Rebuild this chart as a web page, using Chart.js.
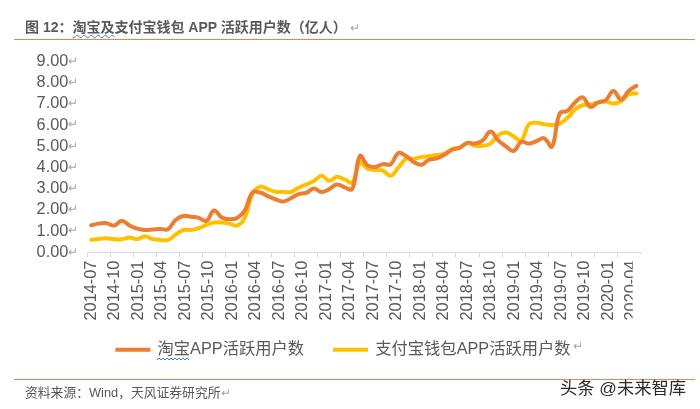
<!DOCTYPE html>
<html><head><meta charset="utf-8">
<script src="https://cdn.jsdelivr.net/npm/chart.js@4"></script>
<style>
html,body{margin:0;padding:0;background:#fff;width:700px;height:409px;overflow:hidden}
#c{position:absolute;left:0;top:0}
.t{position:absolute;white-space:nowrap;font-family:"Liberation Sans","Noto Sans CJK SC",sans-serif;color:#595959}
.r{position:absolute;height:1px;background:#E8883F;left:14px;width:681px}
.a{color:#a6a6a6;font-weight:normal;font-size:12px}
</style></head><body>
<canvas id="c" width="700" height="409"></canvas>
<div class="t" style="left:25px;top:18px;font-size:14px;line-height:18px;font-weight:bold">图 12：<span style="text-decoration:underline wavy #3B78E7 1px;text-underline-offset:2px">淘宝及</span>支付宝钱包 APP 活跃用户数（亿人）<span class="a"> ↵</span></div>
<div class="r" style="top:39px"></div>
<div class="r" style="top:379px"></div>
<div class="t" style="left:25px;top:384px;font-size:12.8px;line-height:18px">资料来源：Wind，天风证券研究所<span class="a">↵</span></div>
<div class="t" style="left:560px;top:377px;font-size:17.3px;line-height:22px;color:#2b2b2b;text-shadow:0 0 2px #fff,1px 1px 0 #fff">头条 @未来智库</div>
<svg style="position:absolute;left:157px;top:357px" width="34" height="6"><polyline fill="none" stroke="#3B78E7" stroke-width="1" points="0,3 2,1 4,3 6,1 8,3 10,1 12,3 14,1 16,3 18,1 20,3 22,1 24,3 26,1 28,3 30,1 32,3"/></svg>
<script>
const categories = [
"2014-07","2014-08","2014-09","2014-10","2014-11","2014-12",
"2015-01","2015-02","2015-03","2015-04","2015-05","2015-06","2015-07","2015-08","2015-09","2015-10","2015-11","2015-12",
"2016-01","2016-02","2016-03","2016-04","2016-05","2016-06","2016-07","2016-08","2016-09","2016-10","2016-11","2016-12",
"2017-01","2017-02","2017-03","2017-04","2017-05","2017-06","2017-07","2017-08","2017-09","2017-10","2017-11","2017-12",
"2018-01","2018-02","2018-03","2018-04","2018-05","2018-06","2018-07","2018-08","2018-09","2018-10","2018-11","2018-12",
"2019-01","2019-02","2019-03","2019-04","2019-05","2019-06","2019-07","2019-08","2019-09","2019-10","2019-11","2019-12",
"2020-01","2020-02","2020-03","2020-04","2020-05","2020-06"];
const taobao = [1.27,1.35,1.37,1.26,1.49,1.26,1.11,1.05,1.07,1.10,1.08,1.52,1.71,1.67,1.62,1.48,1.97,1.64,1.56,1.62,1.97,2.82,2.82,2.65,2.50,2.39,2.55,2.74,2.80,3.01,2.84,2.98,3.20,3.06,2.99,4.55,4.10,4.02,4.16,4.15,4.68,4.54,4.26,4.13,4.37,4.43,4.60,4.84,4.94,5.16,5.13,5.28,5.70,5.28,5.00,4.78,5.21,5.13,5.25,5.38,4.98,6.55,6.67,7.07,7.31,6.86,7.07,7.18,7.61,7.21,7.62,7.86];
const alipay = [0.59,0.62,0.66,0.61,0.61,0.69,0.62,0.75,0.62,0.58,0.58,0.83,1.05,1.05,1.13,1.29,1.40,1.40,1.35,1.26,1.62,2.76,3.10,2.98,2.85,2.85,2.84,3.04,3.20,3.36,3.61,3.37,3.56,3.44,3.29,4.23,3.94,3.88,3.85,3.61,3.99,4.41,4.41,4.49,4.54,4.59,4.65,4.87,4.94,5.16,5.02,5.03,5.13,5.52,5.65,5.47,5.28,6.04,6.11,6.04,6.01,6.07,6.34,6.74,6.94,6.97,7.07,7.12,7.02,7.13,7.46,7.49];
const tickLabels = categories.filter((_, i) => i % 3 === 0);
const seriesNames = ["淘宝APP活跃用户数", "支付宝钱包APP活跃用户数"];
const yTicks = [0,1,2,3,4,5,6,7,8,9];
const FONT = '"Liberation Sans","Noto Sans CJK SC",sans-serif';
const TEXT = '#595959';

const returnMarks = {
  id: 'returnMarks',
  afterLayout(chart) {
    chart.scales.x2.bottom += 30;
  },
  afterDraw(chart) {
    const g = chart.ctx, y = chart.scales.y;
    g.save();
    g.fillStyle = '#fff';
    g.fillRect(632.7, 254, 20, 70);
    g.fillStyle = '#a6a6a6';
    g.font = '12px ' + FONT;
    g.textBaseline = 'middle';
    g.textAlign = 'left';
    yTicks.forEach(v => g.fillText('↵', 68, y.getPixelForValue(v)));
    g.fillText('↵', 573, 347);
    g.restore();
  }
};

new Chart(document.getElementById('c'), {
  type: 'line',
  data: {
    labels: categories,
    datasets: [
      {label: seriesNames[0], data: taobao, borderColor: '#ED7D31', backgroundColor: '#ED7D31', borderWidth: 4, pointRadius: 0, tension: 0.4, borderCapStyle: 'round'},
      {label: seriesNames[1], data: alipay, borderColor: '#FFC000', backgroundColor: '#FFC000', borderWidth: 4, pointRadius: 0, tension: 0.4, borderCapStyle: 'round'}
    ]
  },
  options: {
    responsive: false,
    animation: false,
    devicePixelRatio: 1,
    layout: {padding: {left: -13, right: 0, top: 61.6, bottom: 41}},
    plugins: {
      tooltip: {enabled: false},
      title: {display: false},
      legend: {
        position: 'bottom',
        labels: {
          boxWidth: 33, boxHeight: 2, padding: 30, color: TEXT, font: {family: FONT, size: 16.3},
          generateLabels(chart) {
            return Chart.defaults.plugins.legend.labels.generateLabels(chart).map(l => Object.assign(l, {lineWidth: 2, lineCap: 'butt'}));
          }
        },
        onClick: null
      }
    },
    scales: {
      x: {
        type: 'category',
        offset: true,
        weight: 0,
        afterFit(s) { s.height = 5; },
        border: {color: '#D9D9D9'},
        grid: {
          drawOnChartArea: false, drawTicks: true, tickLength: 5, offset: true,
          color: c => (c.index === undefined || c.index % 3 === 0) ? '#D9D9D9' : 'rgba(0,0,0,0)'
        },
        ticks: {display: false, autoSkip: false}
      },
      x2: {
        type: 'linear',
        position: 'bottom',
        weight: 1,
        min: -0.17,
        max: 23.36,
        afterBuildTicks(s) { s.ticks = tickLabels.map((_, i) => ({value: i})); },
        afterFit(s) { s.height = 54.5; },
        border: {display: false},
        grid: {display: false, drawTicks: false},
        ticks: {
          autoSkip: false, minRotation: 90, maxRotation: 90, padding: 3.5, color: TEXT,
          font: {family: FONT, size: 16.3},
          callback: v => tickLabels[v]
        }
      },
      y: {
        min: 0, max: 9,
        afterFit(s) { s.width = 100.3; },
        afterBuildTicks(s) { s.ticks = yTicks.map(v => ({value: v})); },
        border: {display: false},
        grid: {display: false, drawTicks: false},
        ticks: {autoSkip: false, padding: 19, color: TEXT, font: {family: FONT, size: 16.3}, callback: v => v.toFixed(2)}
      },
      y2: {
        position: 'right',
        min: 0, max: 9,
        afterFit(s) { s.width = 59.7; },
        border: {display: false},
        grid: {display: false, drawTicks: false},
        ticks: {display: false}
      }
    }
  },
  plugins: [returnMarks]
});
</script>
</body></html>
